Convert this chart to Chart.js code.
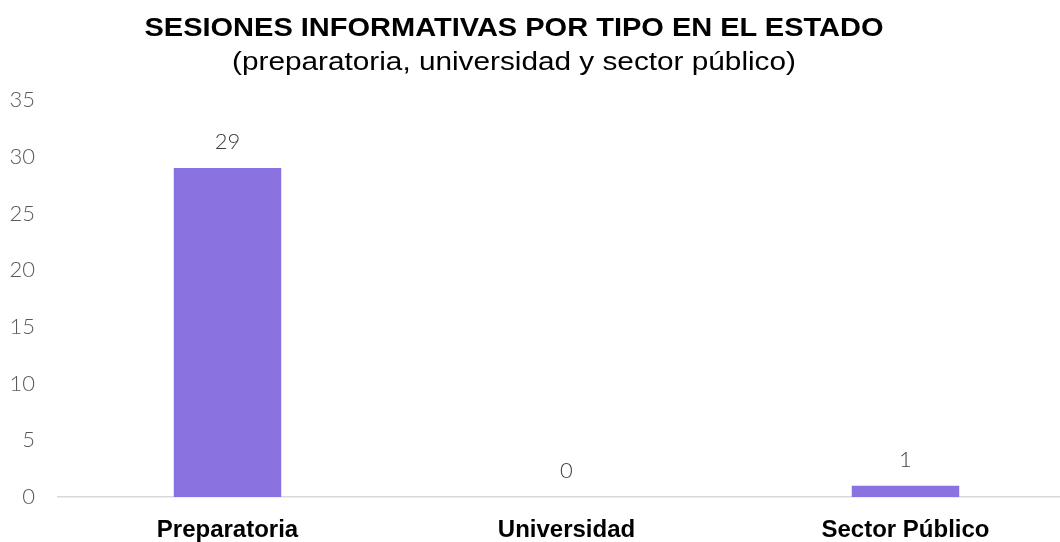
<!DOCTYPE html>
<html lang="es">
<head>
<meta charset="utf-8">
<title>Sesiones informativas por tipo</title>
<script src="https://cdn.jsdelivr.net/npm/chart.js@4/dist/chart.umd.min.js"></script>
<style>
  html, body { margin: 0; padding: 0; background: #fff; overflow: hidden; }
  #wrap { position: relative; width: 1060px; height: 542px; overflow: hidden; }
  #chart { position: absolute; left: 0; top: 0; }
  .titulo {
    position: absolute; left: 0; width: 1028px; text-align: center;
    font-family: "Liberation Sans", Arial, sans-serif; color: #000;
    white-space: nowrap;
  }
  #t1 { top: 12px; font-size: 25px; line-height: 30px; font-weight: bold; transform: scaleX(1.16); }
  #t2 { top: 46px; font-size: 25px; line-height: 30px; transform: scaleX(1.19); }
</style>
</head>
<body>
<div id="wrap">
  <canvas id="chart" width="1075" height="542" style="width:1075px;height:542px"></canvas>
  <div class="titulo" id="t1">SESIONES INFORMATIVAS POR TIPO EN EL ESTADO</div>
  <div class="titulo" id="t2">(preparatoria, universidad y sector público)</div>
</div>
<script>
// Datos de la gráfica
const categorias = ['Preparatoria', 'Universidad', 'Sector Público'];
const sesiones = [29, 0, 1];
const ejeY = { min: 0, max: 35, paso: 5 };

const colorBarra = '#8a72e0';
const fuenteNumeros = 'Lato, "Open Sans", sans-serif';

// Etiquetas con el valor encima de cada barra
const etiquetasValor = {
  id: 'etiquetasValor',
  afterDatasetsDraw(chart) {
    const ctx = chart.ctx;
    const meta = chart.getDatasetMeta(0);
    ctx.save();
    ctx.font = '300 22px ' + fuenteNumeros;
    ctx.fillStyle = '#404040';
    ctx.textAlign = 'center';
    ctx.textBaseline = 'middle';
    meta.data.forEach((bar, i) => {
      ctx.fillText(String(sesiones[i]), bar.x, bar.y - 26);
    });
    ctx.restore();
  }
};

new Chart(document.getElementById('chart'), {
  type: 'bar',
  data: {
    labels: categorias,
    datasets: [{
      data: sesiones,
      backgroundColor: colorBarra,
      borderWidth: 0,
      categoryPercentage: 1,
      barPercentage: 0.317
    }]
  },
  options: {
    responsive: false,
    animation: false,
    layout: { padding: { top: 100, right: 0, bottom: 0, left: 0 } },
    plugins: {
      legend: { display: false },
      tooltip: { enabled: false }
    },
    scales: {
      x: {
        grid: { display: false },
        border: { display: true, color: '#d9d9d9', width: 1.5 },
        ticks: {
          color: '#000',
          padding: 11,
          font: { family: '"Liberation Sans", Arial, sans-serif', size: 24, weight: 'bold' }
        },
        afterFit(scale) { scale.height = 45; }
      },
      y: {
        min: ejeY.min,
        max: ejeY.max,
        grid: { display: false, drawTicks: false },
        border: { display: false },
        ticks: {
          stepSize: ejeY.paso,
          color: '#595959',
          padding: 23,
          font: { family: fuenteNumeros, size: 22, weight: '300' }
        },
        afterFit(scale) { scale.width = 58; }
      }
    }
  },
  plugins: [etiquetasValor]
});
</script>
</body>
</html>
